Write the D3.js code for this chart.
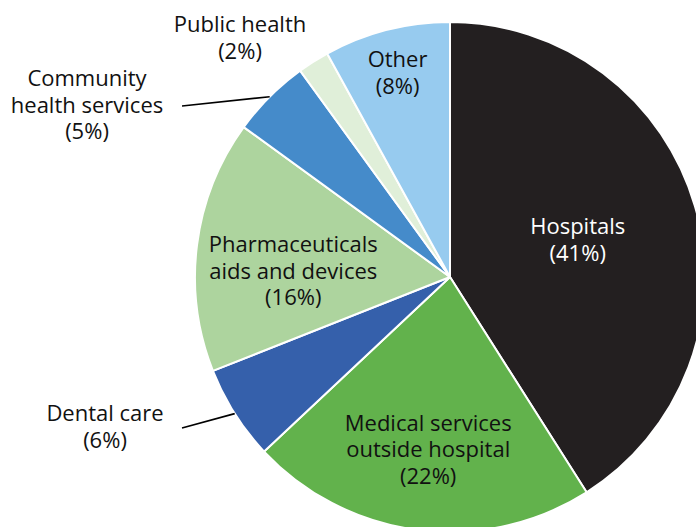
<!DOCTYPE html>
<html>
<head>
<meta charset="utf-8">
<script src="https://cdn.jsdelivr.net/npm/d3@7"></script>
<style>
  body { margin: 0; background: #fff; }
  svg text { font-family: "Open Sans", "Noto Sans", sans-serif; font-size: 22px; }
</style>
</head>
<body>
<script>
(function() {

    const width = 696;
    const height = 527;

    // slices, clockwise from 12 o'clock
    const categories = ["Hospitals", "Medical services outside hospital", "Dental care",
        "Pharmaceuticals aids and devices", "Community health services", "Public health", "Other"];
    const shares = [41, 22, 6, 16, 5, 2, 8];
    const colors = ["#231f20", "#62b24c", "#3560ab", "#add49e", "#458bca", "#e0efd9", "#97cbef"];

    // how each label is broken into lines
    const labelLines = [
        ["Hospitals", "(41%)"],
        ["Medical services", "outside hospital", "(22%)"],
        ["Dental care", "(6%)"],
        ["Pharmaceuticals", "aids and devices", "(16%)"],
        ["Community", "health services", "(5%)"],
        ["Public health", "(2%)"],
        ["Other", "(8%)"]
    ];

    // label layout: inside labels sit on a radius, outside ones at an offset from centre
    const labelLayout = [
        {inside: true, r: 133, dy: 0},
        {inside: true, r: 174, dy: 0},
        {inside: false, x: -345, y: 150, leader: [-268, 151]},
        {inside: true, r: 158, dy: 14},
        {inside: false, x: -363, y: -172, leader: [-268, -171]},
        {inside: false, x: -210, y: -239},
        {inside: true, r: 211, dy: 0}
    ];

    const cx = 450;
    const cy = 277;
    const radius = 255;
    const lineHeight = 26.5;

    let svg = d3.select("body").append("svg")
        .attr("width", width)
        .attr("height", height);

    let g = svg.append("g")
        .attr("transform", "translate(" + cx + "," + cy + ")");

    let pie = d3.pie().sort(null).value(d => d);
    let arcs = pie(shares);

    let arc = d3.arc().innerRadius(0).outerRadius(radius);

    // the slices, white gaps between them
    g.selectAll("path")
        .data(arcs)
        .enter()
        .append("path")
        .attr("d", arc)
        .attr("fill", (d, i) => colors[i])
        .attr("stroke", "#fff")
        .attr("stroke-width", 2)
        .attr("stroke-linejoin", "round");

    // labels
    arcs.forEach((d, i) => {
        let lay = labelLayout[i];
        let pos;
        if (lay.inside) {
            let a = d3.arc().innerRadius(lay.r).outerRadius(lay.r);
            let c = a.centroid(d);
            pos = [c[0], c[1] + lay.dy];
        } else {
            pos = [lay.x, lay.y];
        }

        // leader line from the slice edge out to the label
        if (lay.leader) {
            let edge = d3.arc().innerRadius(radius).outerRadius(radius).centroid(d);
            g.append("line")
                .attr("x1", edge[0])
                .attr("y1", edge[1])
                .attr("x2", lay.leader[0])
                .attr("y2", lay.leader[1])
                .attr("stroke", "#000")
                .attr("stroke-width", 1.6);
        }

        let lines = labelLines[i];
        let text = g.append("text")
            .attr("text-anchor", "middle")
            .attr("fill", i === 0 ? "#fff" : "#111");
        lines.forEach((s, k) => {
            text.append("tspan")
                .attr("x", pos[0])
                .attr("y", pos[1] + (k - (lines.length - 1) / 2) * lineHeight)
                .attr("dy", "0.35em")
                .text(s);
        });
    });

})();
</script>
</body>
</html>
